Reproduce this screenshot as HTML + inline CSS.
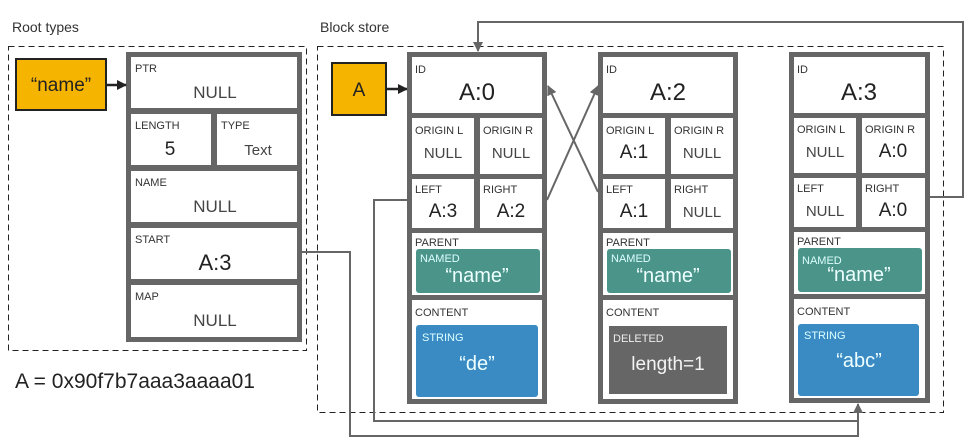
<!DOCTYPE html>
<html><head><meta charset="utf-8"><style>
html,body{margin:0;padding:0;background:#fff;}
svg{display:block;font-family:"Liberation Sans",sans-serif;}
.l{font-size:11px;fill:#333;}
.v{font-size:22px;fill:#222;text-anchor:middle;}
.n{font-size:17px;fill:#444;text-anchor:middle;}
</style></head><body>
<svg width="972" height="448" viewBox="0 0 972 448" xmlns="http://www.w3.org/2000/svg">
<defs>
<marker id="ah" markerWidth="10" markerHeight="10" refX="9" refY="5" orient="auto" markerUnits="userSpaceOnUse">
<path d="M0,0 L10,5 L0,10 z" fill="#666"/></marker>
<marker id="ahd" markerWidth="10" markerHeight="10" refX="9" refY="5" orient="auto" markerUnits="userSpaceOnUse">
<path d="M0,0 L10,5 L0,10 z" fill="#222"/></marker>
</defs>
<text x="12" y="32" font-size="14" fill="#333">Root types</text>
<text x="320" y="32" font-size="14" fill="#333">Block store</text>
<rect x="8.5" y="46.5" width="298" height="304" fill="none" stroke="#222" stroke-dasharray="6,4"/>
<rect x="317.5" y="46.5" width="626" height="366" fill="none" stroke="#222" stroke-dasharray="6,4"/>

<!-- root table -->
<rect x="126" y="52" width="176" height="290" fill="#666"/>
<rect x="131" y="57" width="166" height="51" fill="#fff"/>
<rect x="131" y="114" width="80" height="51" fill="#fff"/>
<rect x="217" y="114" width="80" height="51" fill="#fff"/>
<rect x="131" y="171" width="166" height="51" fill="#fff"/>
<rect x="131" y="228" width="166" height="51" fill="#fff"/>
<rect x="131" y="285" width="166" height="52" fill="#fff"/>
<text class="l" x="135" y="72">PTR</text><text class="n" x="215" y="98">NULL</text>
<text class="l" x="135" y="129">LENGTH</text><text class="v" x="170" y="155" style="font-size:19px">5</text>
<text class="l" x="221" y="129">TYPE</text><text class="n" x="258" y="155" style="font-size:15px">Text</text>
<text class="l" x="135" y="186">NAME</text><text class="n" x="215" y="212">NULL</text>
<text class="l" x="135" y="243">START</text><text class="v" x="215" y="270">A:3</text>
<text class="l" x="135" y="300">MAP</text><text class="n" x="215" y="326">NULL</text>

<rect x="16" y="59" width="90" height="51" fill="#f5b400" stroke="#222" stroke-width="2"/>
<text x="61" y="91" font-size="19" fill="#222" text-anchor="middle">“name”</text>
<line x1="106" y1="85" x2="126" y2="85" stroke="#222" stroke-width="2.5" marker-end="url(#ahd)"/>
<rect x="332" y="63" width="54" height="52" fill="#f5b400" stroke="#222" stroke-width="2"/>
<text x="359" y="96" font-size="19" fill="#222" text-anchor="middle">A</text>
<line x1="386" y1="89" x2="407" y2="89" stroke="#222" stroke-width="2.5" marker-end="url(#ahd)"/>

<text x="15" y="388" font-size="21" fill="#222">A = 0x90f7b7aaa3aaaa01</text>

<!-- block A:0 -->
<g transform="translate(407,52)">
<rect x="0" y="0" width="140" height="352" fill="#666"/>
<rect x="5" y="5" width="130" height="56" fill="#fff"/>
<rect x="5" y="66" width="62" height="56" fill="#fff"/><rect x="73" y="66" width="62" height="56" fill="#fff"/>
<rect x="5" y="127" width="62" height="49" fill="#fff"/><rect x="73" y="127" width="62" height="49" fill="#fff"/>
<rect x="5" y="181" width="130" height="62" fill="#fff"/>
<rect x="5" y="248" width="130" height="99" fill="#fff"/>
<text class="l" x="8" y="21">ID</text><text class="v" x="70" y="48" style="font-size:24px">A:0</text>
<text class="l" x="8" y="82">ORIGIN L</text><text class="n" x="36" y="106" style="font-size:15px">NULL</text>
<text class="l" x="76" y="82">ORIGIN R</text><text class="n" x="104" y="106" style="font-size:15px">NULL</text>
<text class="l" x="8" y="141">LEFT</text><text class="v" x="36" y="165" style="font-size:19px">A:3</text>
<text class="l" x="76" y="141">RIGHT</text><text class="v" x="104" y="165" style="font-size:19px">A:2</text>
<text class="l" x="8" y="194">PARENT</text>
<rect x="9" y="197" width="124" height="44" rx="3" fill="#4a9489"/>
<text x="13" y="210" font-size="11" fill="#dff">NAMED</text>
<text x="70" y="230" font-size="20" fill="#eff" text-anchor="middle">“name”</text>
<text class="l" x="8" y="264">CONTENT</text>
<rect x="9" y="273" width="122" height="72" rx="3" fill="#3a8bc4"/>
<text x="15" y="289" font-size="11" fill="#dff">STRING</text>
<text x="70" y="318" font-size="20" fill="#eff" text-anchor="middle">“de”</text>
</g>

<!-- block A:2 -->
<g transform="translate(598,52)">
<rect x="0" y="0" width="140" height="352" fill="#666"/>
<rect x="5" y="5" width="130" height="56" fill="#fff"/>
<rect x="5" y="66" width="62" height="56" fill="#fff"/><rect x="73" y="66" width="62" height="56" fill="#fff"/>
<rect x="5" y="127" width="62" height="49" fill="#fff"/><rect x="73" y="127" width="62" height="49" fill="#fff"/>
<rect x="5" y="181" width="130" height="62" fill="#fff"/>
<rect x="5" y="248" width="130" height="99" fill="#fff"/>
<text class="l" x="8" y="21">ID</text><text class="v" x="70" y="48" style="font-size:24px">A:2</text>
<text class="l" x="8" y="82">ORIGIN L</text><text class="v" x="36" y="106" style="font-size:19px">A:1</text>
<text class="l" x="76" y="82">ORIGIN R</text><text class="n" x="104" y="106" style="font-size:15px">NULL</text>
<text class="l" x="8" y="141">LEFT</text><text class="v" x="36" y="165" style="font-size:19px">A:1</text>
<text class="l" x="76" y="141">RIGHT</text><text class="n" x="104" y="165" style="font-size:15px">NULL</text>
<text class="l" x="8" y="194">PARENT</text>
<rect x="9" y="197" width="124" height="44" rx="3" fill="#4a9489"/>
<text x="13" y="210" font-size="11" fill="#dff">NAMED</text>
<text x="70" y="230" font-size="20" fill="#eff" text-anchor="middle">“name”</text>
<text class="l" x="8" y="264">CONTENT</text>
<rect x="11" y="274" width="118" height="68" fill="#666"/>
<text x="15" y="290" font-size="11" fill="#eee">DELETED</text>
<text x="70" y="318" font-size="19" fill="#f4f4f4" text-anchor="middle">length=1</text>
</g>

<!-- block A:3 -->
<g transform="translate(789,52)">
<rect x="0" y="0" width="141" height="351" fill="#666"/>
<rect x="5" y="5" width="131" height="56" fill="#fff"/>
<rect x="5" y="66" width="62" height="55" fill="#fff"/><rect x="73" y="66" width="63" height="55" fill="#fff"/>
<rect x="5" y="126" width="62" height="49" fill="#fff"/><rect x="73" y="126" width="63" height="49" fill="#fff"/>
<rect x="5" y="180" width="131" height="62" fill="#fff"/>
<rect x="5" y="247" width="131" height="99" fill="#fff"/>
<text class="l" x="8" y="21">ID</text><text class="v" x="70" y="48" style="font-size:24px">A:3</text>
<text class="l" x="8" y="81">ORIGIN L</text><text class="n" x="36" y="105" style="font-size:15px">NULL</text>
<text class="l" x="76" y="81">ORIGIN R</text><text class="v" x="104" y="105" style="font-size:19px">A:0</text>
<text class="l" x="8" y="140">LEFT</text><text class="n" x="36" y="164" style="font-size:15px">NULL</text>
<text class="l" x="76" y="140">RIGHT</text><text class="v" x="104" y="164" style="font-size:19px">A:0</text>
<text class="l" x="8" y="193">PARENT</text>
<rect x="9" y="196" width="124" height="44" rx="3" fill="#4a9489"/>
<text x="13" y="212" font-size="11" fill="#dff">NAMED</text>
<text x="70" y="229" font-size="20" fill="#eff" text-anchor="middle">“name”</text>
<text class="l" x="8" y="263">CONTENT</text>
<rect x="9" y="272" width="121" height="72" rx="3" fill="#3a8bc4"/>
<text x="15" y="287" font-size="11" fill="#dff">STRING</text>
<text x="70" y="315" font-size="20" fill="#eff" text-anchor="middle">“abc”</text>
</g>

<!-- connectors -->
<g fill="none" stroke="#666" stroke-width="2">
<polyline points="930,197 963,197 963,22 478,22 478,51" marker-end="url(#ah)"/>
<line x1="547" y1="200" x2="598" y2="86" marker-end="url(#ah)"/>
<line x1="598" y1="192" x2="548" y2="86" marker-end="url(#ah)"/>
<polyline points="407,200 374,200 374,421 858,421"/>
<polyline points="302,252 350,252 350,436 858,436 858,404" marker-end="url(#ah)"/>
</g>
</svg>
</body></html>
